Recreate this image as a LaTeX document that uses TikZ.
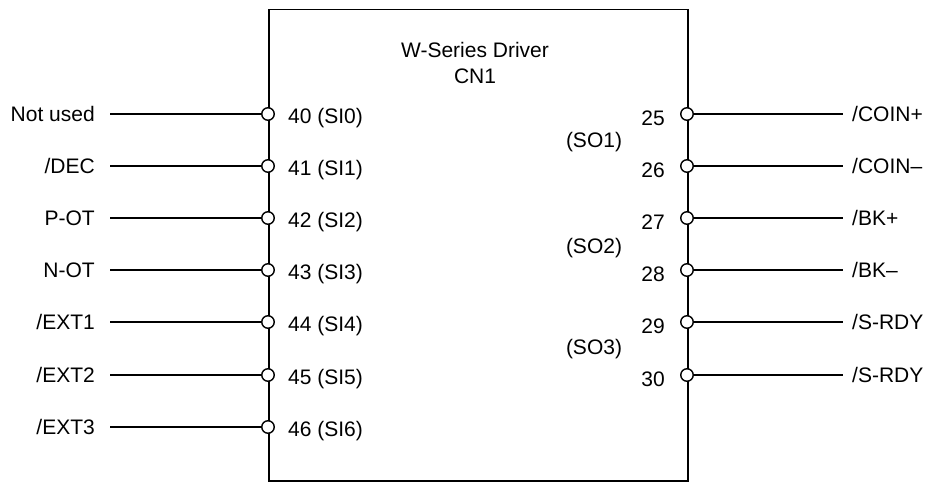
\documentclass[tikz,border=0pt]{standalone}
\usepackage{fontspec}
\setmainfont{Liberation Sans}
\begin{document}
\begin{tikzpicture}[x=1pt,y=-1pt,
  pin/.style={circle,draw,fill=white,inner sep=0pt,minimum size=12.5pt,line width=1.4pt},
  lbl/.style={font=\fontsize{21}{26}\selectfont,inner sep=0pt},
  wire/.style={line width=1.8pt}]
\useasboundingbox (0,0) rectangle (931,484);
\node[draw,line width=1.5pt,minimum width=419pt,minimum height=471pt,anchor=north west,inner sep=0pt] (box) at (268,9) {};
\node[lbl,align=center] (title) at (475,63) {W-Series Driver\\CN1};
% left side
\foreach \n/\txt/\pn/\y in {a/{Not used}/{40 (SI0)}/114, b/{/DEC}/{41 (SI1)}/166, c/{P-OT}/{42 (SI2)}/218, d/{N-OT}/{43 (SI3)}/270, e/{/EXT1}/{44 (SI4)}/322, f/{/EXT2}/{45 (SI5)}/375, g/{/EXT3}/{46 (SI6)}/427}{
  \node[pin] (p\n) at (268,\y) {};
  \node[lbl,anchor=east] (l\n) at (95,\y) {\txt};
  \node[lbl,anchor=west] (n\n) at (288,\y+4) {\pn};
  \coordinate (s\n) at (110,\y);
  \draw[wire] (s\n) -- (p\n);
}
% right side
\foreach \n/\txt/\pn/\y in {a/{/COIN+}/25/114, b/{/COIN–}/26/166, c/{/BK+}/27/218, d/{/BK–}/28/270, e/{/S-RDY}/29/322, f/{/S-RDY}/30/375}{
  \node[pin] (q\n) at (687,\y) {};
  \node[lbl,anchor=west] (r\n) at (852,\y) {\txt};
  \node[lbl,anchor=east] (m\n) at (665,\y+4) {\pn};
  \coordinate (t\n) at (843,\y);
  \draw[wire] (q\n) -- (t\n);
}
\node[lbl] (so1) at (594,142) {(SO1)};
\node[lbl] (so2) at (594,248) {(SO2)};
\node[lbl] (so3) at (594,349) {(SO3)};
\end{tikzpicture}
\end{document}
